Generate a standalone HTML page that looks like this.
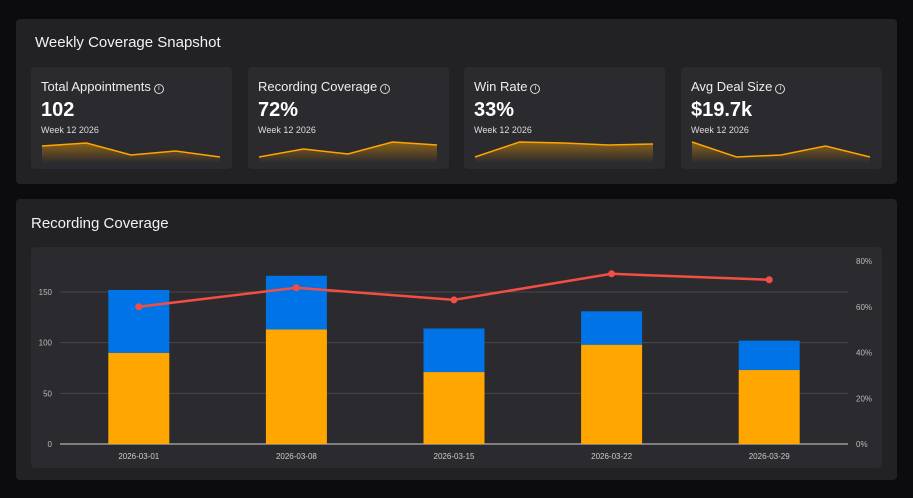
<!DOCTYPE html>
<html><head><meta charset="utf-8"><style>
*{box-sizing:border-box;margin:0;padding:0}
body{width:913px;height:498px;background:#0c0b0e;font-family:"Liberation Sans",sans-serif;color:#fff;position:relative;overflow:hidden}
.panel{position:absolute;background:#222124;border-radius:4px}
.card{position:absolute;top:67px;width:201px;height:102px;background:#2b2a2e;border-radius:4px}
.card .t{position:absolute;left:10px;top:12px;font-size:13px;color:#eee}
.card .v{position:absolute;left:10px;top:32px;font-size:20px;font-weight:bold}
.card .w{position:absolute;left:10px;top:58px;font-size:9px;color:#ddd}
.card svg{position:absolute;left:0;top:0}
.info{display:inline-block;width:10px;height:10px;border:1px solid #ddd;border-radius:50%;font-size:7px;text-align:center;line-height:8px;margin-left:3px;vertical-align:1px}
</style></head><body>
<div class="panel" style="left:16px;top:19px;width:881px;height:165px">
 <div style="position:absolute;left:19px;top:15px;font-size:15px;color:#f2f2f2">Weekly Coverage Snapshot</div>
</div>
<div id="cards"></div>
<div class="panel" style="left:16px;top:199px;width:881px;height:281px">
 <div style="position:absolute;left:15px;top:16px;font-size:15px;color:#f2f2f2">Recording Coverage</div>
 <div style="position:absolute;left:15px;top:48px;width:851px;height:221px;background:#2b2a2e;border-radius:4px"></div>
</div>
<svg id="chart" width="913" height="498" style="position:absolute;left:0;top:0"></svg>
<script>
const cardTitles=["Total Appointments","Recording Coverage","Win Rate","Avg Deal Size"];
const cardValues=["102","72%","33%","$19.7k"];
const spark1=[14,17,5,9,3];
const spark2=[3,11,6,18,15];
const spark3=[3,18,17,15,16];
const spark4=[18,3,5,14,3];
const sparks=[spark1,spark2,spark3,spark4];
const cardX=[31,248,464,681];
const NS="http://www.w3.org/2000/svg";
const cw=document.getElementById('cards');
cardTitles.forEach((t,i)=>{
 const d=document.createElement('div');d.className='card';d.style.left=cardX[i]+'px';
 
 
 const sp=sparks[i];const px=k=>11+k*(178/(sp.length-1));const py=v=>93-v;
 let pts=sp.map((v,k)=>px(k)+','+py(v)).join(' ');
 d.innerHTML=`<svg width="201" height="102"><defs><linearGradient id="g${i}" x1="0" y1="0" x2="0" y2="1"><stop offset="0" stop-color="#ffa500" stop-opacity=".45"/><stop offset="1" stop-color="#ffa500" stop-opacity="0"/></linearGradient></defs><polygon points="${px(0)},96 ${pts} ${px(sp.length-1)},96" fill="url(#g${i})"/><polyline points="${pts}" fill="none" stroke="#ffa500" stroke-width="1.5"/></svg><div class="t">${t}<span class="info">i</span></div><div class="v">${cardValues[i]}</div><div class="w">Week 12 2026</div>`;
 cw.appendChild(d);
 d.querySelector('.t');
 d.querySelector('.t');
 d.querySelector('.v');
 d.querySelector('.v');
 d.querySelector('svg');
 d.querySelector('svg');
});
const categories=["2026-03-01","2026-03-08","2026-03-15","2026-03-22","2026-03-29"];
const recorded=[90,113,71,98,73];
const unrecorded=[62,53,43,33,29];
const coverage=[60,68.3,63,74.4,71.8];
const leftTicks=[0,50,100,150];
const rightTicks=[0,20,40,60,80];
const svg=document.getElementById('chart');
const X0=60,X1=848,Y0=444;
const band=(X1-X0)/categories.length;
const xc=i=>X0+band*(i+.5);
const yL=v=>Y0-v*(152/150);
const yR=v=>Y0-v*(183/80);
function el(tag,a,txt){const e=document.createElementNS(NS,tag);for(const k in a)e.setAttribute(k,a[k]);if(txt!=null)e.textContent=txt;svg.appendChild(e);return e;}
leftTicks.forEach(t=>{
 const g=el('line',{x1:X0,x2:X1,y1:yL(t),y2:yL(t),stroke:t?'#48474b':'#9a9a9a','stroke-width':t?1:1.5});
 
 
 const l=el('text',{x:52,y:yL(t)+3,'text-anchor':'end','font-size':8,fill:'#bbb'},t);
 
 
});
rightTicks.forEach(t=>{
 const l=el('text',{x:856,y:yR(t)+3,'font-size':8,fill:'#bbb'},t+'%');
 
 
});
categories.forEach((c,i)=>{
 const w=61,x=xc(i)-w/2;
 const b1=el('rect',{x:x,y:yL(recorded[i]),width:w,height:Y0-yL(recorded[i]),fill:'#ffa600'});
 
 
 const top=recorded[i]+unrecorded[i];
 const b2=el('rect',{x:x,y:yL(top),width:w,height:yL(recorded[i])-yL(top),fill:'#0073e6'});
 
 
 const l=el('text',{x:xc(i),y:459,'text-anchor':'middle','font-size':8,fill:'#ccc'},c);
 
 
});
const ln=el('polyline',{points:coverage.map((v,i)=>xc(i)+','+yR(v)).join(' '),fill:'none',stroke:'#f24e43','stroke-width':2.5});


coverage.forEach((v,i)=>{
 const p=el('circle',{cx:xc(i),cy:yR(v),r:3.5,fill:'#f24e43'});
 
 
});
</script>
</body></html>
